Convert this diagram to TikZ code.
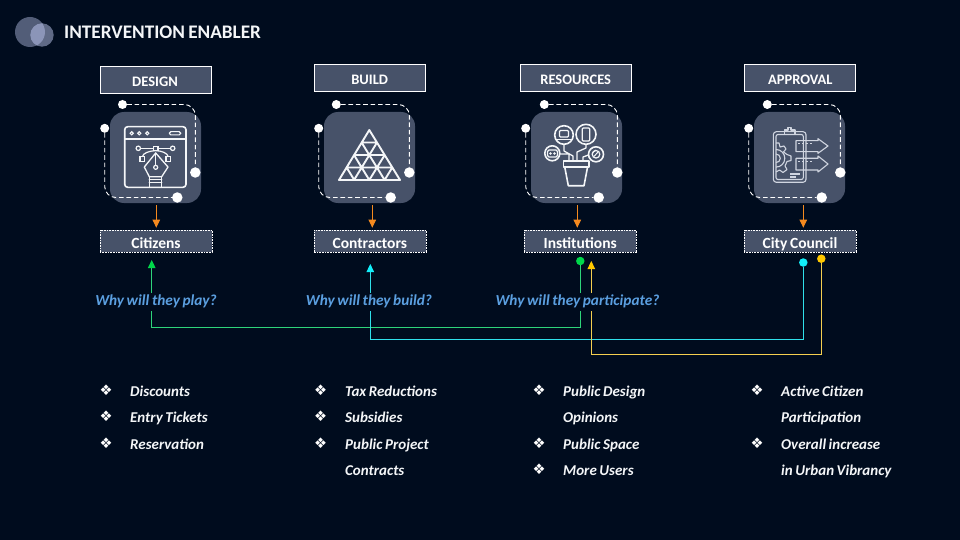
\documentclass[tikz,border=0pt]{standalone}
\usepackage{fontspec}
\setmainfont[WordSpace=0.75]{Carlito}
\newfontfamily\dejavu{DejaVu Sans}
\definecolor{bgc}{HTML}{000C1E}
\definecolor{boxc}{HTML}{475269}
\definecolor{lblc}{HTML}{5B9FE0}
\definecolor{orng}{HTML}{F58A1F}
\definecolor{grn}{HTML}{2ED47A}
\definecolor{grnd}{HTML}{00D84A}
\definecolor{cyn}{HTML}{2FE0EA}
\definecolor{cynd}{HTML}{12EFFA}
\definecolor{ylw}{HTML}{F5CF50}
\definecolor{ylwd}{HTML}{FFC800}
\definecolor{iconc}{HTML}{F4F6F8}
\definecolor{icong}{HTML}{D0D5E0}
\definecolor{disc1}{HTML}{525D78}
\definecolor{disc2}{HTML}{5F6A86}
\definecolor{disc3}{HTML}{8B95B8}
\usetikzlibrary{arrows.meta}
\tikzset{
  headbox/.style={draw=white,fill=boxc,line width=.9pt,minimum width=111,minimum height=27,inner sep=0pt,text=white,font=\fontsize{14.5}{16}\selectfont\bfseries},
  whobox/.style={draw=white,densely dotted,line width=.6pt,fill=boxc,minimum width=112,minimum height=22,inner sep=0pt,text=white,font=\fontsize{15.5}{17}\selectfont\bfseries},
  tile/.style={fill=boxc,rounded corners=14,minimum width=91,minimum height=91,inner sep=0pt},
  dotw/.style={circle,fill=white,minimum size=9,inner sep=0pt},
  dotb/.style={circle,fill=white,minimum size=10.5,inner sep=0pt},
  loopline/.style={draw=white,line width=.9pt,dash pattern=on 4.6pt off 2.8pt,rounded corners=11},
  downarrow/.style={draw=orng,line width=1pt,-{Triangle[width=7.5pt,length=8pt]}},
  linkg/.style={draw=grn,line width=1.1pt,-{Triangle[width=7.5pt,length=8pt,color=grnd]}},
  linkc/.style={draw=cyn,line width=1.1pt,-{Triangle[width=7.5pt,length=8pt,color=cynd]}},
  linky/.style={draw=ylw,line width=1.1pt,-{Triangle[width=7.5pt,length=8pt,color=ylwd]}},
  whytext/.style={fill=bgc,text=lblc,inner xsep=0pt,inner ysep=0pt,text height=13pt,text depth=5pt,font=\fontsize{15.3}{17}\selectfont\bfseries\itshape},
  listtext/.style={text=iconc,anchor=base west,inner sep=0pt,font=\fontsize{15}{17}\selectfont\bfseries\itshape},
  listmark/.style={text=white,inner sep=0pt,font=\dejavu\fontsize{14.5}{16}\selectfont},
  ico/.style={draw=iconc,line width=1.6pt,line join=round,line cap=round},
  icl/.style={draw=icong,line width=1.1pt,line join=round},
  colordot/.style={circle,minimum size=8.5,inner sep=0pt},
}
\newcommand{\frameicon}[5]{%
  \node[tile] (#1t) at (#2+45.5,157.5) {};
  \node[dotw] (#1a) at (#2+#3,104.5) {};
  \node[dotb] (#1b) at (#2+#4,172.5) {};
  \node[dotw] (#1c) at (#2-5.3,128.3) {};
  \node[dotb] (#1d) at (#2+#5,197.5) {};
  \draw[loopline] (#1a) -| (#1b);
  \draw[loopline] (#1c) |- (#1d);
}
\newcommand{\lowertext}[2]{\raisebox{-#1pt}[0pt][0pt]{#2}}
\begin{document}
\begin{tikzpicture}[x=1pt,y=-1pt]
\fill[bgc] (0,0) rectangle (960,540);
\useasboundingbox (0,0) rectangle (960,540);
% title mark
\fill[disc1] (30,32) circle (15);
\fill[disc2] (42,35) circle (11.7);
\begin{scope}
  \clip (30,32) circle (15);
  \fill[disc3] (42,35) circle (11.7);
\end{scope}
\node[text=iconc,anchor=base west,inner sep=0pt,font=\fontsize{19.2}{21}\selectfont\bfseries] (title) at (64,38.6) {INTERVENTION ENABLER};
% headers
\node[headbox] (h1) at (156,80) {\hspace{-2pt}\lowertext{7}{DESIGN}};
\node[headbox] (h2) at (369.7,77.5) {\lowertext{7}{BUILD}};
\node[headbox] (h3) at (575.7,77.5) {\lowertext{7}{RESOURCES}};
\node[headbox] (h4) at (800.3,77.5) {\lowertext{7}{APPROVAL}};
% tiles and dashed frames
\frameicon{a}{110}{12.5}{85.3}{67.3}
\frameicon{b}{324}{12.3}{85.3}{66.7}
\frameicon{c}{531}{13.3}{86.3}{67.7}
\frameicon{d}{754}{13.3}{86.3}{67.7}
% who boxes
\node[whobox] (w1) at (156,241) {\lowertext{7}{Citizens}};
\node[whobox] (w2) at (369.8,241) {\lowertext{7}{Contractors}};
\node[whobox] (w3) at (580.2,241) {\lowertext{7}{Institutions}};
\node[whobox] (w4) at (800,241) {\lowertext{7}{City Council}};
% orange arrows
\draw[downarrow,shorten <=2pt,shorten >=2pt] (156.3,0 |- at.south) -- (156.3,0 |- w1.north);
\draw[downarrow,shorten <=2pt,shorten >=2pt] (372.3,0 |- bt.south) -- (372.3,0 |- w2.north);
\draw[downarrow,shorten <=2pt,shorten >=2pt] (577.3,0 |- ct.south) -- (577.3,0 |- w3.north);
\draw[downarrow,shorten <=2pt,shorten >=2pt] (803.3,0 |- dt.south) -- (803.3,0 |- w4.north);
% links
\node[colordot,fill=grnd] (dg) at (580.3,261) {};
\node[colordot,fill=cynd] (dc) at (803.3,262.5) {};
\node[colordot,fill=ylwd] (dy) at (821.3,258.7) {};
\coordinate (tg) at (151.7,260);
\coordinate (tc) at (370.3,264);
\coordinate (ty) at (591.3,261);
\draw[linkg] (dg) -- (580.3,327.5) -| (tg);
\draw[linkc] (dc) -- (803.3,339.5) -| (tc);
\draw[linky] (dy) -- (821.3,354.5) -| (ty);
\node[whytext] (q1) at (156,301.5) {Why will they play?};
\node[whytext] (q2) at (369,301.5) {Why will they build?};
\node[whytext] (q3) at (577.5,301.5) {Why will they participate?};
% lists
\foreach \n/\x/\y/\t in {
  l1/130/396/Discounts, l2/130/422/Entry Tickets, l3/130/449/Reservation,
  l4/345/396/Tax Reductions, l5/345/422/Subsidies, l6/345/449/Public Project, l7/345/475/Contracts,
  l8/563/396/Public Design, l9/563/422/Opinions, l10/563/449/Public Space, l11/563/475/More Users,
  l12/781/396/Active Citizen, l13/781/422/Participation, l14/781/449/Overall increase, l15/781/475/in Urban Vibrancy}
  \node[listtext] (\n) at (\x,\y) {\t};
\foreach \n/\x/\y in {
  m1/106/390.5, m2/106/416.5, m3/106/443.5,
  m4/320.5/390.5, m5/320.5/416.5, m6/320.5/443.5,
  m7/539/390.5, m8/539/443.5, m9/539/469.5,
  m10/757/390.5, m11/757/443.5}
  \node[listmark] (\n) at (\x,\y) {❖};
% icon 1: window and pen
\draw[ico,rounded corners=3] (124.7,126.7) rectangle (186,187.3);
\draw[ico] (124.7,139) -- (186,139);
\foreach \x in {131.7,139.3,147.3} \draw[iconc,line width=1.1pt] (\x,133.3) circle (1.6);
\draw[iconc,line width=1.1pt,rounded corners=1.5] (169.3,131.7) rectangle (180.7,134.9);
\draw[ico,line width=1.2pt] (140.5,148.3) -- (153.5,148.3) (158,148.3) -- (170.5,148.3);
\draw[iconc,line width=1.2pt] (138.3,148.3) circle (2.2) (172.7,148.3) circle (2.2);
\draw[iconc,line width=1.2pt] (153.5,146.2) rectangle (158,150.6);
\draw[iconc,line width=1.2pt] (140,156.8) rectangle (144.6,161.2) (166,156.8) rectangle (170.6,161.2);
\draw[iconc,line width=1.2pt] (155.7,150.6) .. controls (149,151) and (143,153) .. (142.3,156.8);
\draw[iconc,line width=1.2pt] (155.7,150.6) .. controls (162,151) and (167.5,153) .. (168.3,156.8);
\draw[ico,line width=1.3pt] (155.7,153) -- (168,167) -- (161.7,176.7) -- (149.3,176.7) -- (144.3,167) -- cycle;
\draw[ico,line width=1.2pt] (155.7,153) -- (155.7,165.3);
\draw[iconc,line width=1.2pt] (155.7,167.3) circle (2);
\draw[ico,line width=1.3pt] (149.3,176.7) -- (149.3,187.3) (161.7,176.7) -- (161.7,187.3) (149.3,179.5) -- (161.7,179.5) (149.3,182.5) -- (161.7,182.5);
% icon 2: triangle grid
\draw[ico,line width=1.9pt] (369.3,130) -- (400,180) -- (339,180) -- cycle
  (361.6,142.5) -- (377,142.5) (354,155) -- (384.7,155) (346.6,167.5) -- (392.3,167.5)
  (361.6,142.5) -- (384.6,180) (354,155) -- (369.3,180) (346.6,167.5) -- (354.3,180)
  (377,142.5) -- (354,180) (384.7,155) -- (369.3,180) (392.3,167.5) -- (384.6,180);
% icon 3: plant with devices
\draw[ico] (564,135) circle (9.3) (586,134.3) circle (10) (552.3,153.3) circle (7.5) (596,154.3) circle (7.5);
\draw[ico] (563.3,161) -- (589,161) -- (589,167.3) -- (563.3,167.3) -- cycle;
\draw[ico] (564.8,167.3) -- (568.3,185.7) -- (584,185.7) -- (587.5,167.3);
\draw[ico,line width=1.3pt] (573,161) -- (573,156) -- (564,151) -- (564,144.5) (577,161) -- (577,152) -- (586,148) -- (586,144.5)
  (569,161) -- (569,154) -- (560,154) (583,161) -- (583,157) -- (588.5,155);
\draw[iconc,line width=1.2pt,rounded corners=1] (559.5,130.5) rectangle (568.5,137);
\draw[iconc,line width=1.2pt] (557,139.5) -- (571,139.5);
\draw[iconc,line width=1.2pt,rounded corners=1] (582.3,128) rectangle (589.8,141);
\draw[iconc,line width=1.2pt,rounded corners=1.5] (547.5,150) rectangle (557.5,157);
\fill[iconc] (550.5,153.5) circle (1.3) (554.5,153.5) circle (1.3);
\draw[iconc,line width=1.2pt] (596,154.3) circle (3.8);
\draw[iconc,line width=1pt] (594,156.5) -- (598,152) (592,153.5) -- (595.5,150);
% icon 4: clipboard, gear and arrows
\draw[icl,rounded corners=3] (773.3,131.7) rectangle (806,182.3);
\draw[icl,rounded corners=2] (776,134.5) rectangle (803.3,179.5);
\draw[icl] (784.5,134.5) -- (784.5,130) -- (788,130) -- (788,127.7) -- (791,127.7) -- (791,130) -- (795,130) -- (795,134.5) -- cycle;
\draw[icl] (776,143) -- (779,143) -- (780,147) -- (784,146) -- (786,149) -- (783.5,152) -- (787,154.5) -- (791,156) -- (791,160.5) -- (787,161.5) -- (785,166) -- (787,169.5) -- (783,172.5) -- (779.5,170) -- (776,172);
\draw[icl] (776,149.5) arc (-90:90:8.8);
\draw[icl] (776,154) arc (-90:90:4.3);
\draw[icl] (796,140.7) -- (818,140.7) -- (818,138.7) -- (828,146) -- (818,153.3) -- (818,151.7) -- (796,151.7) -- cycle;
\draw[icl] (796,158.3) -- (818,158.3) -- (818,156) -- (828,164) -- (818,172) -- (818,170) -- (796,170) -- cycle;
\draw[icl,dash pattern=on 2pt off 2pt] (798,143.5) -- (812,143.5) (798,161.5) -- (812,161.5);
\draw[icl] (790,174) -- (800,174) (790,177) -- (796,177);
\end{tikzpicture}
\end{document}
